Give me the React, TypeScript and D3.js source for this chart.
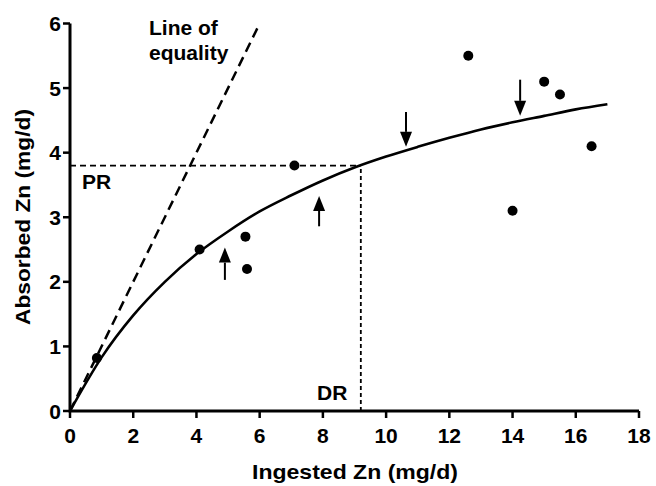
import React from 'react';
import * as d3 from 'd3';

// observed intake / absorption points
const ingested = [0.85, 4.1, 5.55, 5.6, 7.1, 12.6, 14.0, 15.0, 15.5, 16.5];
const absorbed = [0.82, 2.5, 2.7, 2.2, 3.8, 5.5, 3.1, 5.1, 4.9, 4.1];

// fitted saturation curve
const fitX = [0, 1, 2, 3, 4, 5, 6, 7, 8, 9, 10, 11, 12, 13, 14, 15, 16, 17];
const fitY = [0, 0.83, 1.48, 2.0, 2.43, 2.78, 3.09, 3.34, 3.57, 3.77, 3.94, 4.09, 4.23, 4.36, 4.47, 4.57, 4.67, 4.75];

// line of equality end points
const eqX = [0, 6];
const eqY = [0, 6];

// physiological requirement / dietary requirement
const PR = 3.8;
const DR = 9.2;

// arrows: x position, tail y, tip y
const arrowX = [4.9, 7.88, 10.63, 14.24];
const arrowFrom = [2.03, 2.86, 4.63, 5.13];
const arrowTo = [2.53, 3.33, 4.09, 4.57];

const xTicks = [0, 2, 4, 6, 8, 10, 12, 14, 16, 18];
const yTicks = [0, 1, 2, 3, 4, 5, 6];

const FONT = '"Liberation Sans", Arial, Helvetica, sans-serif';

export default function App() {
  const width = 656;
  const height = 486;

  const x = d3.scaleLinear().domain([0, 18]).range([70, 639]);
  const y = d3.scaleLinear().domain([0, 6]).range([411, 23.5]);

  const fitLine = d3.line<number>()
    .x((d, i) => x(fitX[i]))
    .y(d => y(d))
    .curve(d3.curveMonotoneX);

  const eqLine = d3.line<number>()
    .x((d, i) => x(eqX[i]))
    .y(d => y(d));

  const headW = 6;
  const headL = 15;

  return (
    <svg width={width} height={height}
      style={{ position: 'absolute', left: 0, top: 0, background: '#fff' }}
      fontFamily={FONT} fontWeight="bold">
      {/* dashed reference lines */}
      <path d={eqLine(eqY) || ''} fill="none" stroke="#000" strokeWidth={2.5} strokeDasharray="10,6" />
      <line x1={x(0)} x2={x(DR)} y1={y(PR)} y2={y(PR)} stroke="#000" strokeWidth={1.6} strokeDasharray="6,4" />
      <line x1={x(DR)} x2={x(DR)} y1={y(0)} y2={y(PR)} stroke="#000" strokeWidth={1.8} strokeDasharray="4,3" />

      {/* fitted curve */}
      <path d={fitLine(fitY) || ''} fill="none" stroke="#000" strokeWidth={2.6} />

      {/* data points */}
      {ingested.map((v, i) => (
        <circle key={i} cx={x(v)} cy={y(absorbed[i])} r={5} fill="#000" />
      ))}

      {/* arrows */}
      {arrowX.map((ax, i) => {
        const px = x(ax);
        const y0 = y(arrowFrom[i]);
        const y1 = y(arrowTo[i]);
        const dir = y1 > y0 ? 1 : -1;
        const base = y1 - dir * headL;
        return (
          <g key={i}>
            <line x1={px} x2={px} y1={y0} y2={base} stroke="#000" strokeWidth={2} />
            <polygon points={`${px},${y1} ${px - headW},${base} ${px + headW},${base}`} fill="#000" />
          </g>
        );
      })}

      {/* axes */}
      <path d={`M${x(0)},${y(6)}V${y(0)}H${x(18)}`} fill="none" stroke="#000" strokeWidth={3} />
      {xTicks.map(t => (
        <g key={t}>
          <line x1={x(t)} x2={x(t)} y1={y(0)} y2={y(0) + 7} stroke="#000" strokeWidth={2.5} />
          <text x={x(t)} y={443} textAnchor="middle" fontSize={21}>{t}</text>
        </g>
      ))}
      {yTicks.map(t => (
        <g key={t}>
          <line x1={x(0) - 7} x2={x(0)} y1={y(t)} y2={y(t)} stroke="#000" strokeWidth={2.5} />
          <text x={61} y={y(t) + 7.5} textAnchor="end" fontSize={21}>{t}</text>
        </g>
      ))}

      {/* axis titles */}
      <text x={355} y={479} textAnchor="middle" fontSize={21} textLength={206} lengthAdjust="spacingAndGlyphs">
        Ingested Zn (mg/d)
      </text>
      <text transform="translate(30,217) rotate(-90)" textAnchor="middle" fontSize={21} textLength={216} lengthAdjust="spacingAndGlyphs">
        Absorbed Zn (mg/d)
      </text>

      {/* annotations */}
      <text x={149} y={35} fontSize={21}>Line of</text>
      <text x={149} y={60} fontSize={21}>equality</text>
      <text x={82} y={189} fontSize={21}>PR</text>
      <text x={317} y={400} fontSize={21}>DR</text>
    </svg>
  );
}
